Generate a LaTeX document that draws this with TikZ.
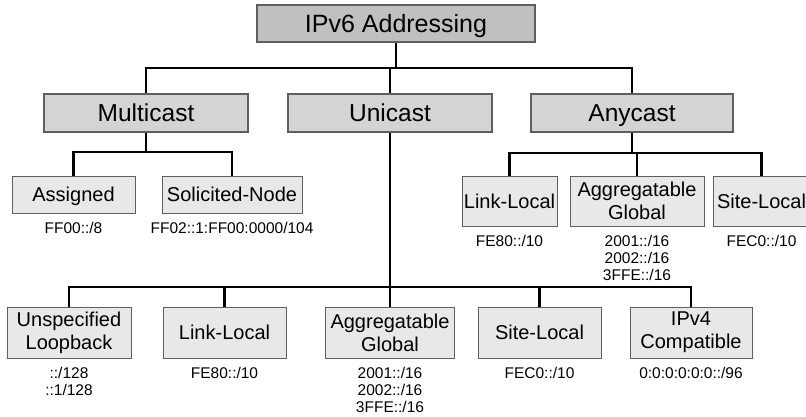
\documentclass[tikz,border=0pt]{standalone}
\usepackage{fontspec}
\setmainfont{Liberation Sans}
\usetikzlibrary{positioning}
\definecolor{rootfill}{RGB}{192,192,192}
\definecolor{catfill}{RGB}{212,212,212}
\definecolor{leaffill}{RGB}{232,232,232}
\definecolor{boxline}{RGB}{95,95,95}
\tikzstyle{rootbox} = [rectangle, draw=boxline, line width=1.2pt, fill=rootfill, inner sep=0pt, minimum height=37pt, text height=17.9pt, text depth=0pt, font=\fontsize{25}{30}\selectfont]
\tikzstyle{catbox} = [rectangle, draw=boxline, line width=1.2pt, fill=catfill, inner sep=0pt, minimum height=38pt, text height=17.5pt, text depth=0pt, font=\fontsize{24.5}{29}\selectfont]
\tikzstyle{leafbox} = [rectangle, draw=boxline, line width=1pt, fill=leaffill, inner sep=0pt, align=center, font=\fontsize{20}{23}\selectfont]
\tikzstyle{leafone} = [leafbox, text height=14.3pt, text depth=0pt]
\tikzstyle{addr} = [inner sep=0pt, align=center, font=\fontsize{15.5}{17}\selectfont]
\tikzstyle{bus} = [line width=2.4pt]

\begin{document}
\begin{tikzpicture}[x=1pt, y=-1pt]
  \useasboundingbox (0,0) rectangle (806,416);

  % Wurzel
  \node[rootbox, minimum width=278pt] (root) at (396,23.5) {IPv6 Addressing};

  % Adressarten
  \node[catbox, minimum width=204pt] (multi) at (146,113) {Multicast};
  \node[catbox, minimum width=204pt] (uni) at (390,113) {Unicast};
  \node[catbox, minimum width=202pt] (any) at (632,113) {Anycast};

  % Multicast
  \node[leafone, minimum width=123pt, minimum height=37pt] (massign) at (73.5,194.5) {Assigned};
  \node[leafone, minimum width=140pt, minimum height=37pt] (msolic) at (232,194.5) {Solicited-Node};

  % Anycast
  \node[leafone, minimum width=95pt, minimum height=50pt] (alink) at (509.5,201) {Link-Local};
  \node[leafbox, minimum width=134pt, minimum height=50pt] (aagg) at (637,201) {Aggregatable\\Global};
  \node[leafone, minimum width=97pt, minimum height=50pt] (asite) at (761.5,201) {Site-Local};

  % Unicast
  \node[leafbox, minimum width=124pt, minimum height=51pt] (uspec) at (69,332.5) {Unspecified\\Loopback};
  \node[leafone, minimum width=123pt, minimum height=51pt] (ulink) at (224.5,332.5) {Link-Local};
  \node[leafbox, minimum width=129pt, minimum height=51pt] (uagg) at (390,332.5) {Aggregatable\\Global};
  \node[leafone, minimum width=123pt, minimum height=51pt] (usite) at (539.5,332.5) {Site-Local};
  \node[leafbox, minimum width=122pt, minimum height=51pt] (uipv4) at (691,332.5) {IPv4\\Compatible};

  % Praefixe
  \node[addr, below=8.5pt of massign] (pmassign) {FF00::/8};
  \node[addr, below=8.5pt of msolic] (pmsolic) {FF02::1:FF00:0000/104};
  \node[addr, below=8.5pt of alink] (palink) {FE80::/10};
  \node[addr, below=8.5pt of aagg] (paagg) {2001::/16\\2002::/16\\3FFE::/16};
  \node[addr, below=8.5pt of asite] (pasite) {FEC0::/10};
  \node[addr, below=8.5pt of uspec] (puspec) {::/128\\::1/128};
  \node[addr, below=8.5pt of ulink] (pulink) {FE80::/10};
  \node[addr, below=8.5pt of uagg] (puagg) {2001::/16\\2002::/16\\3FFE::/16};
  \node[addr, below=8.5pt of usite] (pusite) {FEC0::/10};
  \node[addr, below=8.5pt of uipv4] (puipv4) {0:0:0:0:0:0::/96};

  % Verbindungen
  \coordinate (rbus) at (396,68);
  \coordinate (mbus) at (146,152);
  \coordinate (abus) at (632,153);
  \coordinate (ubus) at (390,287);

  \draw[bus] (root) -- (rbus);
  \draw[bus] (rbus) -| (multi);
  \draw[bus] (rbus) -| (uni);
  \draw[bus] (rbus) -| (any);

  \draw[bus] (multi) -- (mbus);
  \draw[bus] (mbus) -| (massign);
  \draw[bus] (mbus) -| (msolic);

  \draw[bus] (any) -- (abus);
  \draw[bus] (abus) -| (alink);
  \draw[bus] (abus) -| (aagg);
  \draw[bus] (abus) -| (asite);

  \draw[bus] (uni) -- (ubus);
  \draw[bus] (ubus) -| (uspec);
  \draw[bus] (ubus) -| (ulink);
  \draw[bus] (ubus) -- (uagg);
  \draw[bus] (ubus) -| (usite);
  \draw[bus] (ubus) -| (uipv4);
\end{tikzpicture}
\end{document}
